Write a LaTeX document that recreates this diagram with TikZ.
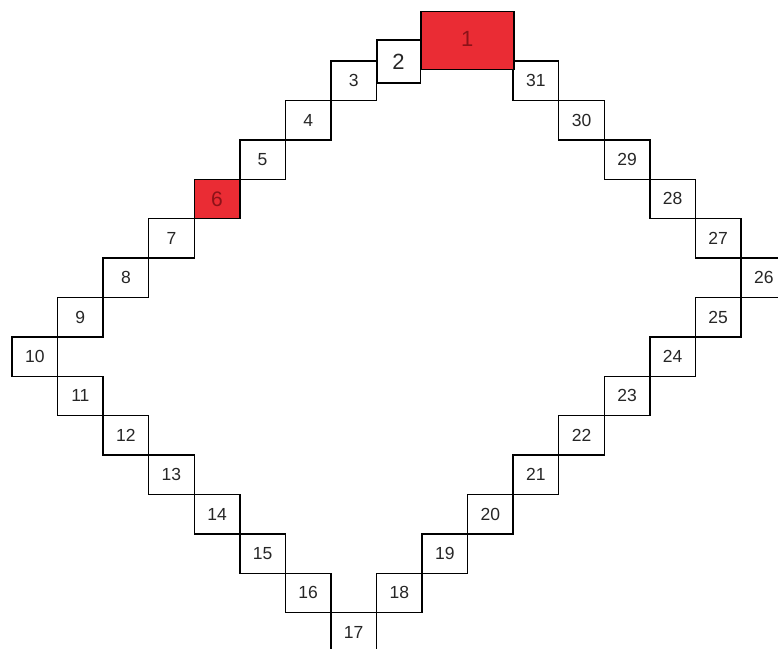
\documentclass[tikz,border=0pt]{standalone}
\usepackage{fontspec}
\setmainfont{Liberation Sans}
\definecolor{boxred}{RGB}{234,44,52}
\definecolor{txtred}{RGB}{140,18,24}
\begin{document}
\begin{tikzpicture}[x=1pt,y=-1pt,
  cell/.style={draw=black,line width=1.4pt,minimum width=45.56pt,minimum height=39.4pt,inner sep=0pt,
    font=\fontsize{17.5}{17.5}\selectfont,text=black!85},
  hot/.style={fill=boxred,text=txtred}]
\useasboundingbox (0,0) rectangle (778,648);
\clip (0,0) rectangle (778,648);
\foreach \n/\c/\r in {3/7/0,4/6/1,5/5/2,7/3/4,8/2/5,9/1/6,10/0/7,11/1/8,12/2/9,13/3/10,14/4/11,15/5/12,16/6/13,17/7/14,18/8/13,19/9/12,20/10/11,21/11/10,22/12/9,23/13/8,24/14/7,25/15/6,26/16/5,27/15/4,28/14/3,29/13/2,30/12/1,31/11/0}{
  \node[cell] (b\n) at ({12+\c*45.56+22.78},{61+\r*39.4+19.7}) {\n};
}
\node[cell,hot,font=\fontsize{21}{21}\selectfont] (b6) at ({12+4*45.56+22.78},{61+3*39.4+19.7}) {6};
\node[cell,minimum width=43.5pt,minimum height=43pt,font=\fontsize{22}{22}\selectfont] (b2) at (398.6,61.5) {2};
\node[cell,hot,minimum width=93pt,minimum height=58pt,font=\fontsize{22}{22}\selectfont,anchor=north west] (b1) at (420.1,11) {\raisebox{4pt}{1}};
\end{tikzpicture}
\end{document}
